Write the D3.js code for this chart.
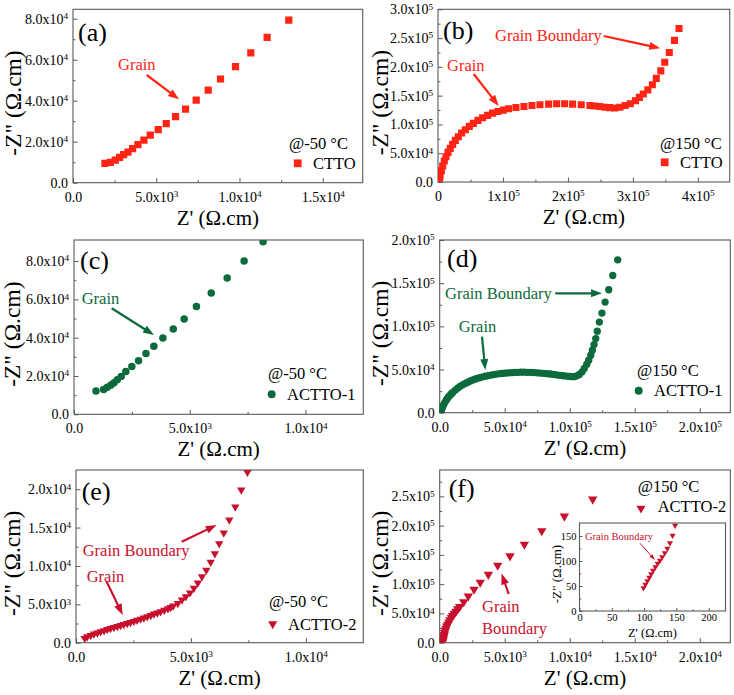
<!DOCTYPE html>
<html><head><meta charset="utf-8">
<script src="https://cdn.jsdelivr.net/npm/d3@7"></script>
<style>
body{margin:0;background:#fff}
text{font-family:"Liberation Serif","Times New Roman",serif}
</style>
</head><body>
<script>
// ================= DATA =================
// (a) CTTO @ -50 °C  [Z', -Z'']
const ctto_m50 = [[1920,9430],[2240,9920],[2540,11060],[2800,12360],[3040,13660],[3300,14960],[3580,16590],[3900,18540],[4260,20810],[4640,23250],[5120,25850],[5600,28780],[6160,32200],[6760,35900],[7400,40300],[8120,45200],[8860,50600],[9760,56600],[10680,63300],[11660,70900],[12960,79300]];
// (b) CTTO @ 150 °C
const ctto_150 = [[1000,1500],[2000,5000],[3100,9200],[5100,19100],[7200,27700],[9700,36400],[12300,43900],[15400,51500],[18900,58400],[22600,65400],[26700,72300],[31300,78600],[36400,85000],[42100,90700],[48200,96600],[54400,101800],[61500,107000],[68700,111500],[76400,115700],[84100,119700],[92300,122600],[100500,124900],[108700,127100],[120000,129500],[132300,131300],[144600,133000],[156900,134100],[170300,135300],[182600,135800],[194900,135800],[207200,135300],[220500,134100],[233800,133000],[241000,132000],[249000,131000],[257000,130000],[264000,129200],[272000,128600],[280000,130000],[288000,133000],[296000,136000],[304000,141000],[310000,147000],[316000,153000],[323000,160000],[330000,169000],[336000,180000],[343000,193000],[349000,208000],[356000,225000],[364000,246000],[371000,266600]];
// (c) ACTTO-1 @ -50 °C
const actto1_m50 = [[950,12200],[1280,13000],[1440,14100],[1600,15300],[1730,16500],[1870,18100],[2040,19800],[2240,22300],[2500,24900],[2790,28000],[3110,31700],[3450,35500],[3840,39800],[4290,44500],[4760,49700],[5290,56300],[5930,63300],[6620,71100],[7350,80000],[8170,90100]];
// (d) ACTTO-1 @ 150 °C
const actto1_150 = [[500,300],[1000,2000],[1500,4000],[2000,6000],[3000,9000],[4000,12000],[5000,14500],[6000,16800],[7000,18700],[8000,20400],[9000,22000],[10000,23500],[12000,26200],[14000,28700],[16000,30800],[18000,32600],[20000,34200],[22000,35600],[24000,37000],[26000,38200],[28000,39300],[30000,40300],[32500,41300],[35000,42200],[37500,43000],[40000,43800],[42500,44400],[45000,45000],[47500,45400],[50000,45800],[52500,46100],[55000,46400],[57500,46600],[60000,46800],[62500,46900],[65000,46900],[67500,46800],[70000,46700],[72500,46500],[75000,46200],[77500,45900],[80000,45600],[82500,45200],[85000,44800],[87500,44300],[90000,43800],[92500,43300],[95000,42800],[97500,42400],[100000,42000],[102000,41700],[104000,41800],[105800,43000],[107400,44300],[109500,47300],[111200,51200],[113100,56200],[114600,60800],[116200,66600],[117400,72300],[118700,78900],[120000,85800],[121200,94300],[122800,105000],[124800,115400],[127200,128100],[130000,142400],[133100,158900],[136900,177000]];
// (e) ACTTO-2 @ -50 °C
const actto2_m50 = [[380,570],[490,780],[640,950],[780,1130],[930,1280],[1070,1430],[1220,1580],[1360,1740],[1500,1870],[1650,2000],[1800,2130],[1940,2260],[2080,2390],[2230,2520],[2370,2650],[2520,2790],[2660,2930],[2810,3080],[2950,3230],[3100,3390],[3250,3560],[3390,3740],[3540,3890],[3680,4040],[3840,4230],[4000,4430],[4120,4600],[4230,4780],[4430,5130],[4610,5560],[4780,6000],[4960,6500],[5130,7100],[5300,7800],[5480,8600],[5670,9460],[5860,10500],[6040,11600],[6230,12900],[6430,14300],[6670,16000],[6930,17700],[7190,19900],[7460,22200]];
// (f) ACTTO-2 @ 150 °C
const actto2_150 = [[220,1000],[250,3400],[280,7000],[310,10200],[345,13500],[380,17000],[430,20800],[480,24500],[550,28000],[620,31300],[700,35000],[790,38700],[900,42500],[1000,46000],[1120,50000],[1250,53500],[1390,57500],[1540,61300],[1850,69800],[2200,79600],[2640,91000],[3120,103000],[3740,116500],[4460,132000],[5410,148000],[6510,168000],[7850,191000],[9590,216000],[11770,245000]];
// (f) inset: ACTTO-2 @ 150 °C, low-Z region
const actto2_150_inset = [[99,46],[102,53],[105,60],[108,67],[111,74],[114,81],[117.5,88],[121,95],[124.5,101],[128,108],[132,116],[136,125],[140,136],[144,151],[148,171]];

// ticks & tick labels
const aXTicks=[0,5000,10000,15000], aXLabels=["0.0","5.0x10^3","1.0x10^4","1.5x10^4"], aXMinor=[2500,7500,12500];
const aYTicks=[0,20000,40000,60000,80000], aYLabels=["0.0","2.0x10^4","4.0x10^4","6.0x10^4","8.0x10^4"], aYMinor=[10000,30000,50000,70000];
const bXTicks=[0,1e5,2e5,3e5,4e5], bXLabels=["0","1x10^5","2x10^5","3x10^5","4x10^5"], bXMinor=[5e4,1.5e5,2.5e5,3.5e5];
const bYTicks=[0,5e4,1e5,1.5e5,2e5,2.5e5,3e5], bYLabels=["0.0","5.0x10^4","1.0x10^5","1.5x10^5","2.0x10^5","2.5x10^5","3.0x10^5"], bYMinor=[2.5e4,7.5e4,1.25e5,1.75e5,2.25e5,2.75e5];
const cXTicks=[0,5000,10000], cXLabels=["0.0","5.0x10^3","1.0x10^4"], cXMinor=[2500,7500];
const cYTicks=[0,20000,40000,60000,80000], cYLabels=["0.0","2.0x10^4","4.0x10^4","6.0x10^4","8.0x10^4"], cYMinor=[10000,30000,50000,70000];
const dXTicks=[0,5e4,1e5,1.5e5,2e5], dXLabels=["0.0","5.0x10^4","1.0x10^5","1.5x10^5","2.0x10^5"], dXMinor=[2.5e4,7.5e4,1.25e5,1.75e5];
const dYTicks=[0,5e4,1e5,1.5e5,2e5], dYLabels=["0.0","5.0x10^4","1.0x10^5","1.5x10^5","2.0x10^5"], dYMinor=[2.5e4,7.5e4,1.25e5,1.75e5];
const eXTicks=[0,5000,10000], eXLabels=["0.0","5.0x10^3","1.0x10^4"], eXMinor=[2500,7500];
const eYTicks=[0,5000,10000,15000,20000], eYLabels=["0.0","5.0x10^3","1.0x10^4","1.5x10^4","2.0x10^4"], eYMinor=[2500,7500,12500,17500];
const fXTicks=[0,5000,10000,15000,20000], fXLabels=["0.0","5.0x10^3","1.0x10^4","1.5x10^4","2.0x10^4"], fXMinor=[2500,7500,12500,17500];
const fYTicks=[0,5e4,1e5,1.5e5,2e5,2.5e5], fYLabels=["0.0","5.0x10^4","1.0x10^5","1.5x10^5","2.0x10^5","2.5x10^5"], fYMinor=[2.5e4,7.5e4,1.25e5,1.75e5,2.25e5,2.75e5];
const iXTicks=[0,50,100,150,200], iXLabels=["0","50","100","150","200"], iXMinor=[25,75,125,175];
const iYTicks=[0,50,100,150], iYLabels=["0","50","100","150"], iYMinor=[25,75,125];

// ================= DRAW =================
const RED="#ff2414", GREEN="#0c6a3c", CRIMSON="#c8102e", AXC="#5a5a5a";
const svg=d3.select("body").append("svg").attr("width",734).attr("height",695);
const defs=svg.append("defs");
let clipId=0;

function supLabels(sel, fs){
  sel.selectAll(".tick text").each(function(){
    const t=d3.select(this), s=t.text(), p=s.split("^");
    t.text(p[0]);
    if(p[1]) t.append("tspan").attr("dy","-0.5em").style("font-size",(fs*0.66)+"px").text(p[1]);
  });
}
function styleAxis(sel, fs){
  sel.select(".domain").remove();
  sel.selectAll(".tick line").attr("stroke",AXC).attr("stroke-width",1);
  sel.selectAll(".tick text").attr("fill","#000").style("font-size",fs+"px").style("font-family","'Liberation Serif',serif");
  supLabels(sel, fs);
}

function panel(p){
  const g=svg.append("g");
  const x=d3.scaleLinear().domain([0,p.xMax]).range([p.x0,p.x1]);
  const y=d3.scaleLinear().domain([0,p.yMax]).range([p.y1,p.y0]);
  g.append("rect").attr("x",p.x0).attr("y",p.y0).attr("width",p.x1-p.x0).attr("height",p.y1-p.y0).attr("fill","#fff");
  const id="clip"+(clipId++);
  defs.append("clipPath").attr("id",id).append("rect").attr("x",p.x0).attr("y",p.y0).attr("width",p.x1-p.x0).attr("height",p.y1-p.y0);
  const fs=p.fs||14, tk=p.tk||4.5, mt=p.mt||2.5;
  g.append("g").attr("transform",`translate(0,${p.y1})`)
    .call(d3.axisBottom(x).tickValues(p.xMinor).tickSizeInner(-mt).tickSizeOuter(0).tickFormat(""))
    .call(s=>{s.select(".domain").remove();s.selectAll("line").attr("stroke",AXC);});
  g.append("g").attr("transform",`translate(${p.x0},0)`)
    .call(d3.axisLeft(y).tickValues(p.yMinor).tickSizeInner(-mt).tickSizeOuter(0).tickFormat(""))
    .call(s=>{s.select(".domain").remove();s.selectAll("line").attr("stroke",AXC);});
  g.append("g").attr("transform",`translate(0,${p.y1})`)
    .call(d3.axisBottom(x).tickValues(p.xTicks).tickSizeInner(-tk).tickSizeOuter(0).tickPadding(p.xPad||9).tickFormat((d,i)=>p.xLabels[i]))
    .call(s=>styleAxis(s,fs));
  g.append("g").attr("transform",`translate(${p.x0},0)`)
    .call(d3.axisLeft(y).tickValues(p.yTicks).tickSizeInner(-tk).tickSizeOuter(0).tickPadding(p.yPad||5).tickFormat((d,i)=>p.yLabels[i]))
    .call(s=>styleAxis(s,fs));
  g.append("rect").attr("x",p.x0).attr("y",p.y0).attr("width",p.x1-p.x0).attr("height",p.y1-p.y0)
    .attr("fill","none").attr("stroke",AXC).attr("stroke-width",1.1);
  // data
  g.append("g").attr("clip-path",`url(#${id})`).selectAll("path").data(p.data).join("path")
    .attr("transform",d=>`translate(${x(d[0])},${y(d[1])}) rotate(${p.rot||0})`)
    .attr("d",d3.symbol(p.sym,p.size)).attr("fill",p.color);
  // axis titles
  const tfs=p.tfs||21, yfs=p.yfs||23.5;
  g.append("text").attr("x",(p.x0+p.x1)/2+(p.xtdx||0)).attr("y",p.y1+(p.xtdy||42)).attr("text-anchor","middle")
    .style("font-size",tfs+"px").text("Z' (\u03A9.cm)");
  g.append("text").attr("transform",`translate(${p.ytx+0.33*yfs},${(p.y0+p.y1)/2+(p.ytdy||7)}) rotate(-90)`).attr("text-anchor","middle")
    .style("font-size",yfs+"px").text('-Z" (\u03A9.cm)');
  return {g,x,y};
}

function txt(str,x,y,fs,color,anchor){
  return svg.append("text").attr("x",x).attr("y",y).attr("fill",color||"#000").attr("text-anchor",anchor||"start")
    .style("font-size",fs+"px").text(str);
}
function arrow(x1,y1,x2,y2,color,w,hl,hw){
  w=w||2.2; hl=hl||11; hw=hw||8;
  const a=Math.atan2(y2-y1,x2-x1), c=Math.cos(a), s=Math.sin(a);
  const bx=x2-hl*c, by=y2-hl*s;
  svg.append("line").attr("x1",x1).attr("y1",y1).attr("x2",bx+2*c).attr("y2",by+2*s).attr("stroke",color).attr("stroke-width",w);
  svg.append("path").attr("d",`M${x2},${y2}L${bx-hw/2*s},${by+hw/2*c}L${bx+hw/2*s},${by-hw/2*c}Z`).attr("fill",color);
}
function legendMark(sym,size,rot,x,y,color){
  svg.append("path").attr("transform",`translate(${x},${y}) rotate(${rot||0})`).attr("d",d3.symbol(sym,size)).attr("fill",color);
}

const FS=16.5, LF=26;
const TRI_DOWN=180;

// (a)
panel({x0:73,x1:362.7,y0:9.3,y1:182.7,xMax:17400,yMax:84600,xTicks:aXTicks,xLabels:aXLabels,xMinor:aXMinor,
  yTicks:aYTicks,yLabels:aYLabels,yMinor:aYMinor,data:ctto_m50,sym:d3.symbolSquare,size:52,color:RED,ytx:13});
txt("(a)",78,41,LF);
txt("Grain",118,69.5,FS,RED); arrow(146.7,75,179,99.3,RED);
txt("@-50 \u00B0C",289,148.5,FS); legendMark(d3.symbolSquare,60,0,297.7,163.3,RED); txt("CTTO",313,169,FS);

// (b)
panel({x0:438,x1:729.7,y0:9.3,y1:182,xMax:449000,yMax:300000,xTicks:bXTicks,xLabels:bXLabels,xMinor:bXMinor,
  yTicks:bYTicks,yLabels:bYLabels,yMinor:bYMinor,data:ctto_150,sym:d3.symbolSquare,size:50,color:RED,ytx:380});
txt("(b)",443,39,LF);
txt("Grain Boundary",495,40.5,FS,RED); arrow(603.7,36,660.3,48.3,RED);
txt("Grain",447,70.5,FS,RED); arrow(473.7,74,498.7,106,RED);
txt("@150 \u00B0C",660,148.5,FS); legendMark(d3.symbolSquare,60,0,664.7,162.3,RED); txt("CTTO",680,168,FS);

// (c)
panel({x0:74,x1:363.3,y0:240,y1:414.3,xMax:12500,yMax:91000,xTicks:cXTicks,xLabels:cXLabels,xMinor:cXMinor,
  yTicks:cYTicks,yLabels:cYLabels,yMinor:cYMinor,data:actto1_m50,sym:d3.symbolCircle,size:44,color:GREEN,ytx:12});
txt("(c)",80,268.5,LF);
txt("Grain",81.7,303.8,FS,GREEN); arrow(111.7,308.3,154,335,GREEN);
txt("@-50 \u00B0C",268,378.8,FS); legendMark(d3.symbolCircle,50,0,271.7,394.3,GREEN); txt("ACTTO-1",287,399.8,FS);

// (d)
panel({x0:439.7,x1:730.3,y0:240,y1:412.7,xMax:223500,yMax:200000,xTicks:dXTicks,xLabels:dXLabels,xMinor:dXMinor,
  yTicks:dYTicks,yLabels:dYLabels,yMinor:dYMinor,data:actto1_150,sym:d3.symbolCircle,size:42,color:GREEN,ytx:380});
txt("(d)",447,267,LF);
txt("Grain Boundary",445,298.8,FS,GREEN); arrow(555.3,293.3,602,293.3,GREEN);
txt("Grain",458.7,332.2,FS,GREEN); arrow(482,336.7,485.3,370,GREEN);
txt("@150 \u00B0C",637,375.5,FS); legendMark(d3.symbolCircle,50,0,638.7,390.7,GREEN); txt("ACTTO-1",654,396.2,FS);

// (e)
panel({x0:76,x1:363.3,y0:470,y1:642.7,xMax:12500,yMax:22500,xTicks:eXTicks,xLabels:eXLabels,xMinor:eXMinor,
  yTicks:eYTicks,yLabels:eYLabels,yMinor:eYMinor,data:actto2_m50,sym:d3.symbolTriangle,size:30,rot:TRI_DOWN,color:CRIMSON,ytx:12});
txt("(e)",81.7,500.3,LF);
txt("Grain Boundary",82.7,555.5,FS,CRIMSON); arrow(181.7,541.7,216.7,525,CRIMSON);
txt("Grain",86.7,582.2,FS,CRIMSON); arrow(106.7,581.7,122.7,615,CRIMSON);
txt("@-50 \u00B0C",269,607.2,FS); legendMark(d3.symbolTriangle,36,TRI_DOWN,272.7,624,CRIMSON); txt("ACTTO-2",288,629.5,FS);

// (f)
panel({x0:439.7,x1:730.3,y0:470,y1:642.7,xMax:22350,yMax:295000,xTicks:fXTicks,xLabels:fXLabels,xMinor:fXMinor,
  yTicks:fYTicks,yLabels:fYLabels,yMinor:fYMinor,data:actto2_150,sym:d3.symbolTriangle,size:38,rot:TRI_DOWN,color:CRIMSON,ytx:380});
txt("(f)",448.7,497,LF);
txt("@150 \u00B0C",637.7,491.5,FS); legendMark(d3.symbolTriangle,36,TRI_DOWN,641,508.3,CRIMSON); txt("ACTTO-2",657.7,512.2,FS);
txt("Grain",482,612.2,FS,CRIMSON); txt("Boundary",482,633.8,FS,CRIMSON); arrow(508.7,594,501.5,573.5,CRIMSON);

// (f) inset
panel({x0:579.5,x1:725.5,y0:523,y1:611,xMax:226,yMax:176,xTicks:iXTicks,xLabels:iXLabels,xMinor:iXMinor,
  yTicks:iYTicks,yLabels:iYLabels,yMinor:iYMinor,data:actto2_150_inset,sym:d3.symbolTriangle,size:16,rot:TRI_DOWN,color:CRIMSON,
  ytx:556.5,fs:10.5,tk:3,mt:1.8,xPad:3,yPad:3,tfs:12.5,yfs:13,xtdy:26,ytdy:0});
txt("Grain Boundary",585,539.5,10.5,CRIMSON); arrow(640,543.3,655,560,CRIMSON,1,6,4);
</script>
</body></html>
